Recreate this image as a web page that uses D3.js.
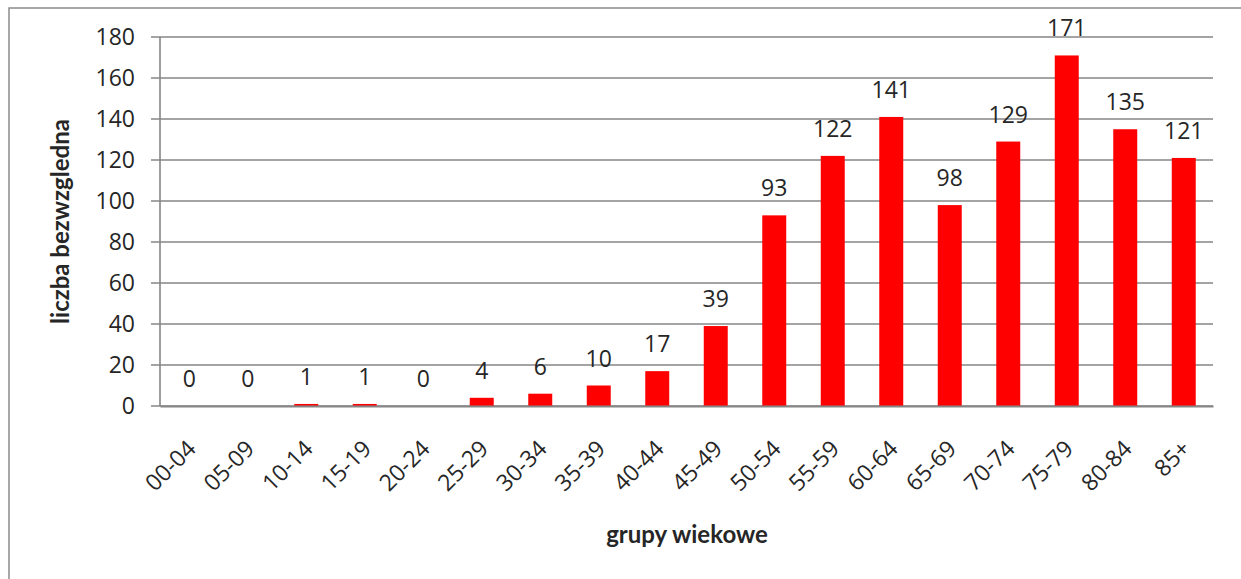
<!DOCTYPE html>
<html>
<head>
<meta charset="utf-8">
<script src="https://cdn.jsdelivr.net/npm/d3@7"></script>
<style>
  body { margin: 0; background: #fff; }
  svg { display: block; }
</style>
</head>
<body>
<div id="chart"></div>
<script>
// age groups and absolute counts
const groups = ['00-04', '05-09', '10-14', '15-19', '20-24', '25-29', '30-34', '35-39', '40-44',
  '45-49', '50-54', '55-59', '60-64', '65-69', '70-74', '75-79', '80-84', '85+'];
const counts = [0, 0, 1, 1, 0, 4, 6, 10, 17, 39, 93, 122, 141, 98, 129, 171, 135, 121];
const yTicks = [0, 20, 40, 60, 80, 100, 120, 140, 160, 180];

const W = 1241, H = 579;
const margin = {top: 37, right: 28, bottom: 173, left: 160};
const width = W - margin.left - margin.right;
const height = H - margin.top - margin.bottom;

const svg = d3.select('#chart').append('svg')
  .attr('width', W)
  .attr('height', H);

// outer frame (right / bottom fall outside the picture)
svg.append('rect')
  .attr('x', 9).attr('y', 8)
  .attr('width', W + 20).attr('height', H + 20)
  .attr('fill', 'none')
  .attr('stroke', '#8c8c8c')
  .attr('stroke-width', 1.5);

const g = svg.append('g')
  .attr('transform', `translate(${margin.left},${margin.top})`);

const x = d3.scaleBand()
  .domain(groups)
  .range([0, width])
  .paddingInner(0.59)
  .paddingOuter(0.295);

const y = d3.scaleLinear()
  .domain([0, 180])
  .range([height, 0]);

// gridlines
g.append('g')
  .selectAll('line')
  .data(yTicks)
  .enter()
  .append('line')
  .attr('x1', -9)
  .attr('x2', width)
  .attr('y1', d => y(d))
  .attr('y2', d => y(d))
  .attr('stroke', '#868686')
  .attr('stroke-width', 1.4);

// y axis labels
const yAxis = g.append('g')
  .call(d3.axisLeft(y).tickValues(yTicks).tickSize(0).tickPadding(25));
yAxis.select('.domain').remove();
yAxis.selectAll('text')
  .attr('fill', '#262626')
  .style('font-family', '"Open Sans", sans-serif')
  .style('font-size', '23px');

// bars
g.append('g')
  .selectAll('rect')
  .data(counts)
  .enter()
  .append('rect')
  .attr('x', (d, i) => x(groups[i]))
  .attr('y', d => y(d))
  .attr('width', x.bandwidth())
  .attr('height', d => height - y(d))
  .attr('fill', '#ff0000');

// value labels
g.append('g')
  .selectAll('text')
  .data(counts)
  .enter()
  .append('text')
  .attr('x', (d, i) => x(groups[i]) + x.bandwidth() / 2)
  .attr('y', d => y(d) - 19)
  .attr('text-anchor', 'middle')
  .attr('fill', '#262626')
  .style('font-family', '"Open Sans", sans-serif')
  .style('font-size', '23px')
  .text(d => d);

// y axis line
g.append('line')
  .attr('x1', 0).attr('x2', 0)
  .attr('y1', 0).attr('y2', height)
  .attr('stroke', '#868686')
  .attr('stroke-width', 1.6);

// x axis
const xAxis = g.append('g')
  .attr('transform', `translate(0,${height})`)
  .call(d3.axisBottom(x).tickSize(0));
xAxis.select('.domain')
  .attr('stroke', '#868686')
  .attr('stroke-width', 2);
xAxis.selectAll('text')
  .attr('fill', '#262626')
  .style('font-family', '"Open Sans", sans-serif')
  .style('font-size', '23px')
  .attr('text-anchor', 'end')
  .attr('dy', 0)
  .attr('transform', 'translate(6,42) rotate(-45)');

// axis titles
svg.append('text')
  .attr('transform', `translate(69,${margin.top + height / 2}) rotate(-90)`)
  .attr('text-anchor', 'middle')
  .attr('fill', '#262626')
  .style('font-family', 'Lato, sans-serif')
  .style('font-weight', 'bold')
  .style('font-size', '24px')
  .text('liczba bezwzgledna');

svg.append('text')
  .attr('x', 687)
  .attr('y', 543)
  .attr('text-anchor', 'middle')
  .attr('fill', '#262626')
  .style('font-family', 'Lato, sans-serif')
  .style('font-weight', 'bold')
  .style('font-size', '24px')
  .text('grupy wiekowe');
</script>
</body>
</html>
